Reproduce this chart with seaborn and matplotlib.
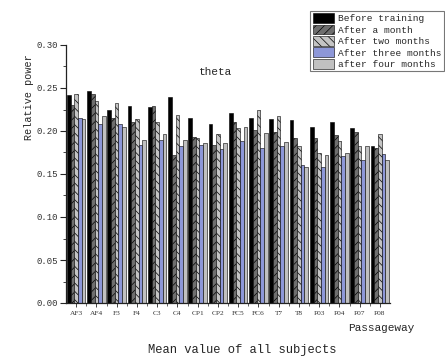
"""Grouped bar chart of theta relative power per channel across training stages."""

import matplotlib
matplotlib.use("Agg")
import matplotlib.pyplot as plt
import matplotlib.ticker as mticker
import pandas as pd
import seaborn as sns

channels = ["AF3", "AF4", "F3", "F4", "C3", "C4", "CP1", "CP2",
            "FC5", "FC6", "T7", "T8", "P03", "P04", "P07", "P08"]
stages = ["Before training", "After a month", "After two months",
          "After three months", "after four months"]

before = [0.242, 0.246, 0.224, 0.229, 0.228, 0.240, 0.215, 0.208,
          0.221, 0.215, 0.214, 0.213, 0.205, 0.210, 0.203, 0.182]
month1 = [0.230, 0.243, 0.215, 0.210, 0.229, 0.172, 0.193, 0.184,
          0.210, 0.201, 0.199, 0.192, 0.192, 0.195, 0.199, 0.180]
month2 = [0.243, 0.235, 0.232, 0.214, 0.211, 0.219, 0.192, 0.196,
          0.204, 0.224, 0.217, 0.182, 0.174, 0.188, 0.182, 0.196]
month3 = [0.215, 0.208, 0.208, 0.184, 0.190, 0.183, 0.184, 0.179,
          0.188, 0.180, 0.182, 0.161, 0.158, 0.171, 0.166, 0.173]
month4 = [0.214, 0.217, 0.205, 0.190, 0.197, 0.190, 0.186, 0.186,
          0.205, 0.198, 0.187, 0.158, 0.172, 0.175, 0.182, 0.166]

colors = ["#000000", "#6e6e6e", "#c4c4c4", "#8d97d8", "#c0c0c0"]
hatches = ["", "////", "\\\\\\\\", "", ""]

MONO = ["Liberation Mono", "DejaVu Sans Mono"]
SERIF = ["Liberation Serif", "DejaVu Serif"]

sns.set_theme(style="ticks")
plt.rcParams.update({
    "font.family": MONO,
    "hatch.linewidth": 0.5,
    "hatch.color": "#333333",
})

df = pd.DataFrame({
    "channel": channels * 5,
    "stage": sum([[s] * len(channels) for s in stages], []),
    "power": before + month1 + month2 + month3 + month4,
})

fig = plt.figure(figsize=(4.45, 3.6), dpi=100)
ax = fig.add_axes([66 / 445, 57 / 360, 324 / 445, 258 / 360])

sns.barplot(
    data=df, x="channel", y="power", hue="stage",
    hue_order=stages, order=channels, palette=colors,
    width=0.92, saturation=1, edgecolor="black", linewidth=0.4,
    legend=False, ax=ax,
)

for cont, hatch, col in zip(ax.containers, hatches, colors):
    for bar in cont:
        bar.set_hatch(hatch)
        bar.set_facecolor(col)
        bar.set_edgecolor("black")

ax.set_xlim(-0.5, len(channels) - 0.5)
ax.set_ylim(0, 0.30)
ax.yaxis.set_major_locator(mticker.MultipleLocator(0.05))
ax.yaxis.set_minor_locator(mticker.MultipleLocator(0.025))
ax.yaxis.set_major_formatter(mticker.FormatStrFormatter("%.2f"))
ax.xaxis.set_minor_locator(mticker.FixedLocator([i + 0.5 for i in range(len(channels) - 1)]))

for side in ("top", "right"):
    ax.spines[side].set_visible(False)
for side in ("left", "bottom"):
    ax.spines[side].set_linewidth(0.9)
    ax.spines[side].set_color("#222222")

ax.tick_params(axis="y", which="major", length=4, width=0.8, labelsize=6.5, pad=2)
ax.tick_params(axis="y", which="minor", length=2, width=0.6)
ax.tick_params(axis="x", which="major", length=3, width=0.6, labelsize=5.3, pad=3)
ax.tick_params(axis="x", which="minor", length=2, width=0.5)
for lbl in ax.get_xticklabels():
    lbl.set_family(SERIF)
    lbl.set_color("#333333")
for lbl in ax.get_yticklabels():
    lbl.set_color("#333333")

ax.set_ylabel("Relative power", fontsize=7.3)
ax.yaxis.set_label_coords(-0.10, 0.797)
ax.set_xlabel("Passageway", fontsize=8)
ax.xaxis.set_label_coords(0.972, -0.078)

ax.text(0.46, 0.895, "theta", transform=ax.transAxes, fontsize=8,
        ha="center", va="center")
fig.text(0.544, 0.028, "Mean value of all subjects", fontsize=8.7,
         ha="center", va="center")

handles = [cont.patches[0] for cont in ax.containers]
leg = ax.legend(
    handles, stages, loc="upper right",
    bbox_to_anchor=(0.998, 0.97), bbox_transform=fig.transFigure,
    fontsize=6.8, frameon=True, fancybox=False, edgecolor="#555555",
    handlelength=2.3, handleheight=1.2, labelspacing=0.15,
    handletextpad=0.4, borderpad=0.25, borderaxespad=0,
)
leg.get_frame().set_linewidth(0.8)

fig.savefig("out.png", dpi=100)
plt.close(fig)
